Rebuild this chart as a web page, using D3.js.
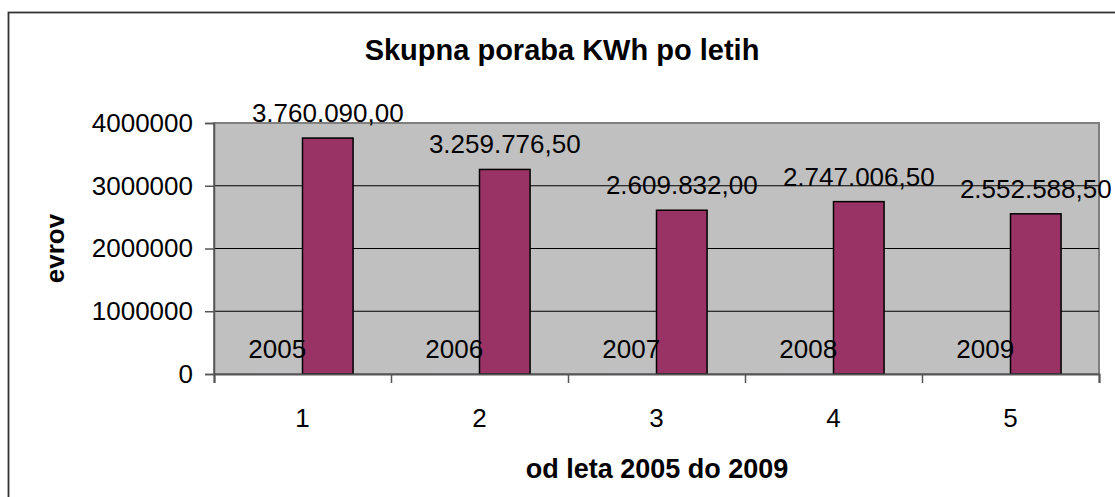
<!DOCTYPE html>
<html>
<head>
<meta charset="utf-8">
<script src="https://cdn.jsdelivr.net/npm/d3@7"></script>
<style>
  html, body { margin: 0; padding: 0; background: #fff; }
  svg { display: block; font-family: "Liberation Sans", Arial, sans-serif; }
</style>
</head>
<body>
<svg id="chart" width="1115" height="497"></svg>
<script>
// ---- data ----
const categories = ["1", "2", "3", "4", "5"];
const years = [2005, 2006, 2007, 2008, 2009];
const consumption = [3760090.00, 3259776.50, 2609832.00, 2747006.50, 2552588.50];
const yTicks = [0, 1000000, 2000000, 3000000, 4000000];
const titleText = "Skupna poraba KWh po letih";
const xTitleText = "od leta 2005 do 2009";
const yTitleText = "evrov";

// ---- layout ----
const W = 1115, H = 497;
const plot = { left: 214, right: 1099, top: 123, bottom: 374 };
const labelSize = 26;
const svg = d3.select("#chart");

const sl = d3.formatLocale({ decimal: ",", thousands: ".", grouping: [3], currency: ["", " €"] });
const fmtVal = sl.format(",.2f");

const x = d3.scaleBand().domain(categories).range([plot.left, plot.right]).paddingInner(0).paddingOuter(0);
const xs = d3.scaleBand().domain(["years", "kwh"]).range([0, x.bandwidth()]).paddingInner(0).paddingOuter(0.75);
const xEdge = d3.scaleLinear().domain([0, categories.length]).range([plot.left, plot.right]);
const y = d3.scaleLinear().domain([0, 4000000]).range([plot.bottom, plot.top]);

// outer chart border
svg.append("rect")
  .attr("x", 8.5).attr("y", 12.5)
  .attr("width", W + 20).attr("height", H + 20)
  .attr("fill", "#fff").attr("stroke", "#333").attr("stroke-width", 1.8);

// plot area
svg.append("rect")
  .attr("x", plot.left).attr("y", plot.top)
  .attr("width", plot.right - plot.left).attr("height", plot.bottom - plot.top)
  .attr("fill", "#c0c0c0").attr("stroke", "#808080").attr("stroke-width", 2);

// gridlines
svg.append("g")
  .selectAll("line")
  .data(yTicks.filter(t => t > 0 && t < 4000000))
  .join("line")
  .attr("x1", plot.left).attr("x2", plot.right)
  .attr("y1", d => y(d)).attr("y2", d => y(d))
  .attr("stroke", "#000").attr("stroke-width", 1);

// title
svg.append("text")
  .attr("x", 562).attr("y", 60)
  .attr("text-anchor", "middle")
  .attr("font-weight", "bold").attr("font-size", 29)
  .text(titleText);

// series 1 bars (years, tiny)
const g = svg.append("g");
g.selectAll("rect.yr")
  .data(years)
  .join("rect").attr("class", "yr")
  .attr("x", (d, i) => x(categories[i]) + xs("years"))
  .attr("width", xs.bandwidth())
  .attr("y", d => y(d))
  .attr("height", d => y(0) - y(d))
  .attr("fill", "#9999ff");

// series 2 bars
g.selectAll("rect.kwh")
  .data(consumption)
  .join("rect").attr("class", "kwh")
  .attr("x", (d, i) => x(categories[i]) + xs("kwh"))
  .attr("width", xs.bandwidth())
  .attr("y", d => y(d))
  .attr("height", d => y(0) - y(d))
  .attr("fill", "#993366").attr("stroke", "#000").attr("stroke-width", 1.5);

// y axis
const yAxis = svg.append("g")
  .attr("transform", `translate(${plot.left},0)`)
  .call(d3.axisLeft(y).tickValues(yTicks).tickSize(9).tickPadding(12).tickFormat(d3.format("d")));
yAxis.select(".domain").attr("stroke", "#555").attr("stroke-width", 1.5);
yAxis.selectAll(".tick line").attr("stroke", "#555").attr("stroke-width", 1.5);
yAxis.selectAll(".tick text").attr("font-size", labelSize).attr("fill", "#000")
  .attr("font-family", "Liberation Sans, Arial, sans-serif");

// x axis: boundary ticks
const xAxisTicks = svg.append("g")
  .attr("transform", `translate(0,${plot.bottom})`)
  .call(d3.axisBottom(xEdge).tickValues(d3.range(categories.length + 1)).tickSize(9).tickFormat(""));
xAxisTicks.select(".domain").attr("stroke", "#555").attr("stroke-width", 2);
xAxisTicks.selectAll(".tick line").attr("stroke", "#555").attr("stroke-width", 1.5);

// x axis: category labels
const xAxisLabels = svg.append("g")
  .attr("transform", `translate(0,${plot.bottom})`)
  .call(d3.axisBottom(x).tickSize(0).tickPadding(35));
xAxisLabels.select(".domain").remove();
xAxisLabels.selectAll(".tick text").attr("font-size", labelSize).attr("fill", "#000")
  .attr("font-family", "Liberation Sans, Arial, sans-serif");

// data labels series 1 (years)
svg.append("g").selectAll("text")
  .data(years)
  .join("text")
  .attr("x", (d, i) => x(categories[i]) + xs("years") + xs.bandwidth() / 2)
  .attr("y", d => y(d) - 16)
  .attr("text-anchor", "middle").attr("font-size", labelSize)
  .text(d => d);

// data labels series 2
svg.append("g").selectAll("text")
  .data(consumption)
  .join("text")
  .attr("x", (d, i) => x(categories[i]) + xs("kwh") + xs.bandwidth() / 2)
  .attr("y", d => y(d) - 16)
  .attr("text-anchor", "middle").attr("font-size", labelSize)
  .text(d => fmtVal(d));

// axis titles
svg.append("text")
  .attr("x", 657).attr("y", 478)
  .attr("text-anchor", "middle").attr("font-weight", "bold").attr("font-size", 27)
  .text(xTitleText);

svg.append("text")
  .attr("transform", `translate(64,${(plot.top + plot.bottom) / 2}) rotate(-90)`)
  .attr("text-anchor", "middle").attr("font-weight", "bold").attr("font-size", 26)
  .text(yTitleText);
</script>
</body>
</html>
